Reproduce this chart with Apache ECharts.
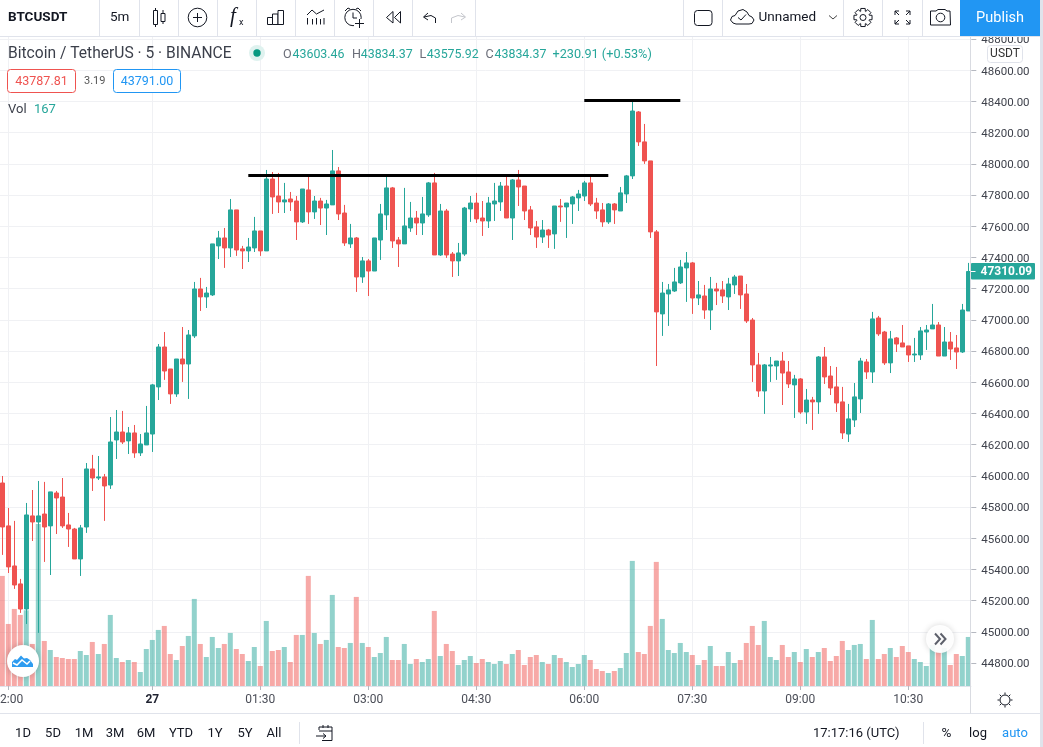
<!DOCTYPE html>
<html><head><meta charset="utf-8">
<style>html,body{margin:0;padding:0;background:#fff}#c{width:1043px;height:747px}</style>
<script src="https://cdn.jsdelivr.net/npm/echarts@6/dist/echarts.min.js"></script>
</head><body><div id="c"></div>
<script>
const opens=[45954,45679,45422,45307,45146,45743,45704,45755,45679,45890,45864,45685,45659,45467,45672,46044,45986,45993,45941,46230,46281,46224,46275,46147,46198,46268,46570,46826,46685,46525,46749,46717,46897,47198,47147,47160,47474,47525,47461,47705,47455,47442,47461,47570,47442,47903,47794,47756,47775,47762,47628,47833,47692,47762,47717,47737,47955,47685,47487,47525,47275,47378,47313,47512,47673,47846,47512,47487,47589,47653,47621,47673,47878,47416,47698,47422,47378,47422,47711,47749,47653,47634,47743,47756,47858,47653,47897,47858,47705,47596,47531,47576,47551,47730,47724,47743,47782,47794,47878,47749,47705,47628,47743,47698,47807,47923,48333,48141,48019,47564,47038,47166,47185,47237,47333,47365,47140,47153,47063,47198,47192,47147,47224,47281,47166,46999,46711,46544,46704,46704,46736,46666,46583,46621,46409,46486,46474,46762,46640,46570,46474,46268,46358,46493,46730,46666,47012,46922,46724,46884,46852,46833,46775,46775,46922,46942,46967,46768,46858,46820,46794,47057];
const closes=[45672,45416,45300,45146,45749,45704,45743,45672,45897,45858,45679,45659,45467,45666,46044,45986,45993,45935,46217,46281,46217,46275,46147,46204,46275,46583,46826,46672,46525,46749,46717,46903,47198,47147,47172,47487,47525,47461,47705,47448,47442,47467,47570,47442,47903,47788,47756,47769,47756,47628,47839,47692,47762,47717,47743,47955,47679,47493,47525,47275,47378,47313,47525,47679,47846,47506,47487,47602,47653,47621,47679,47878,47416,47698,47416,47378,47429,47717,47749,47647,47634,47749,47762,47858,47653,47897,47852,47698,47589,47531,47576,47544,47730,47724,47749,47788,47807,47878,47743,47698,47628,47743,47705,47814,47923,48339,48141,48019,47564,47051,47172,47192,47243,47339,47365,47140,47160,47063,47198,47185,47153,47230,47275,47160,46993,46711,46544,46711,46711,46736,46659,46589,46621,46409,46486,46474,46762,46634,46563,46467,46275,46365,46506,46736,46666,47006,46910,46724,46878,46845,46826,46775,46781,46929,46935,46967,46768,46858,46813,46794,47063,47310.09];
const lows=[45493,45377,45275,45121,45050,45582,44993,45448,45364,45627,45666,45544,45467,45358,45634,45903,45973,45711,45916,46108,46204,46140,46115,46127,46198,46153,46486,46615,46461,46506,46602,46493,46884,47057,47076,47153,47390,47333,47403,47410,47326,47371,47435,47410,47442,47679,47685,47685,47698,47512,47621,47615,47647,47608,47544,47737,47640,47474,47461,47179,47237,47153,47313,47384,47576,47461,47339,47487,47564,47544,47544,47660,47416,47410,47397,47275,47281,47410,47628,47621,47538,47589,47634,47698,47653,47512,47730,47640,47544,47461,47493,47461,47455,47628,47525,47615,47698,47762,47730,47647,47596,47615,47615,47698,47749,47903,48115,48000,47525,46704,46897,46961,47179,47230,47115,47038,47095,47006,46935,47095,47108,47063,47166,47070,46980,46602,46506,46397,46602,46615,46454,46563,46371,46397,46333,46294,46397,46589,46518,46409,46236,46217,46313,46403,46621,46595,46897,46711,46659,46794,46826,46730,46730,46743,46807,46942,46768,46768,46743,46685,46788,47057];
const highs=[45999,45794,45711,45339,45826,45909,45967,45961,45897,45903,45986,45762,45666,45685,46082,46134,46127,46012,46377,46422,46416,46313,46326,46268,46448,46589,46845,46922,46685,46749,46954,46935,47243,47269,47211,47487,47570,47589,47775,47705,47474,47525,47660,47570,47961,47948,47942,47878,47820,47794,47839,47929,47794,47782,47769,48089,47980,47737,47615,47531,47403,47390,47525,47743,47929,47852,47531,47846,47756,47698,47788,47884,47942,47743,47711,47435,47493,47724,47794,47814,47762,47788,47878,47884,47929,47903,47961,47858,47730,47634,47640,47583,47730,47775,47749,47794,47833,47891,47923,47782,47749,47749,47749,47852,47929,48397,48339,48256,48019,47576,47243,47230,47333,47384,47435,47371,47249,47224,47275,47237,47249,47269,47288,47281,47230,47012,46788,46717,46762,46736,46794,46736,46647,46627,46557,46506,46768,46826,46704,46698,46570,46461,46595,46756,46749,47051,47025,46929,46929,46890,46967,46833,46884,46954,46967,47102,46986,46954,46922,46903,47102,47365];
const volumes=[330,186,231,213,227,126,486,135,108,87,84,81,81,105,93,132,96,126,213,84,72,78,72,42,111,138,168,180,96,78,120,150,261,126,87,147,114,126,159,111,96,75,117,60,195,105,108,117,72,153,153,330,159,126,138,273,117,114,129,267,129,117,87,99,147,78,78,126,66,81,72,81,225,90,126,105,63,78,90,69,81,72,66,75,66,96,108,63,87,93,72,66,93,84,72,57,66,93,78,51,45,39,45,54,99,375,102,96,180,372,201,108,99,129,102,93,63,78,120,60,60,102,69,78,129,180,123,195,87,78,123,87,102,72,111,87,102,114,75,90,135,108,123,126,81,198,81,96,114,87,120,102,81,72,60,123,102,114,63,96,90,147];
const priceTicks=[44800,45000,45200,45400,45600,45800,46000,46200,46400,46600,46800,47000,47200,47400,47600,47800,48000,48200,48400,48600,48800];
const timeTicks=['22:00','00:00','01:30','03:00','04:30','06:00','07:30','09:00','10:30'];
const resistance=47925.5, spikeHigh=48406.3;

// five-minute categories, starting at 21:55
const categories=opens.map((_,i)=>{
  const m=(21*60+55+i*5)%1440;
  return String(Math.floor(m/60)).padStart(2,'0')+':'+String(m%60).padStart(2,'0');
});
const GREEN='#26a69a',RED='#ef5350',UI='Roboto,"Noto Sans",sans-serif',INK='#131722',LINE='#e0e3eb',GRID='#f0f1f4';

const chart=echarts.init(document.getElementById('c'),null,{renderer:'canvas'});
const g=[];
const Z=100;
function rect(x,y,w,h,fill,o={}){g.push({type:'rect',z:o.z||Z,silent:true,shape:{x,y,width:w,height:h,r:o.r||0},style:{fill:fill,stroke:o.stroke||null,lineWidth:o.lw||1,shadowBlur:o.blur||0,shadowColor:o.sc||'transparent'}});}
function line(x1,y1,x2,y2,c=INK,lw=1,z=Z){g.push({type:'line',z,silent:true,shape:{x1,y1,x2,y2},style:{stroke:c,lineWidth:lw}});}
function poly(pts,c=INK,lw=1,z=Z+1){g.push({type:'polyline',z,silent:true,shape:{points:pts},style:{stroke:c,lineWidth:lw,fill:null}});}
function pgon(pts,stroke,fill,lw=1,z=Z+1){g.push({type:'polygon',z,silent:true,shape:{points:pts},style:{stroke,fill:fill||null,lineWidth:lw}});}
function circ(cx,cy,r,fill,stroke,lw=1,o={}){g.push({type:'circle',z:o.z||Z+1,silent:true,shape:{cx,cy,r},style:{fill:fill||null,stroke:stroke||null,lineWidth:lw,shadowBlur:o.blur||0,shadowColor:o.sc||'transparent',shadowOffsetY:o.oy||0}});}
function text(x,y,s,o={}){g.push({type:'text',z:o.z||Z+2,silent:true,x,y,style:{text:s,fill:o.c||INK,font:(o.it?'italic ':'')+(o.w||'normal')+' '+(o.s||13)+'px '+(o.f||UI),textAlign:o.a||'left',textVerticalAlign:'middle'}});}

// ---- panels
rect(0,0,1043,36.5,'#fff');
line(0,36.5,1040,36.5,LINE,1);
rect(971,686.5,69,27,'#fff',{z:Z-1});
rect(0,713.5,1040,33.5,'#fff',{z:Z-1});
line(0,713.5,1040,713.5,LINE,1);
line(970.5,37,970.5,713.5,'#d9dbe1',1);
rect(1040,0,3,747,'#e0e3eb');
[99.5,139.5,178.5,217.5,256.5,295.5,334.5,373.5,412.5,475.5,683.5,722.5,843.5,882.5,922.5].forEach(x=>line(x,0,x,36,LINE,1));

// ---- top toolbar left
text(8,17.5,'BTCUSDT',{w:'bold',s:13.5,c:'#131722'});
text(110,17.5,'5m',{s:13.5});
rect(153.5,10.5,4,14,'#fff',{stroke:INK});line(155.5,8,155.5,10.5);line(155.5,24.5,155.5,27);
rect(161,13.5,4,8,'#fff',{stroke:INK});line(163,10,163,13.5);line(163,21.5,163,24);
circ(197.5,17.5,9.3,null,INK);line(193,17.5,202,17.5);line(197.5,13,197.5,22);
text(230,16.5,'f',{s:21,it:true,f:'"Liberation Serif",serif'});
text(239,23,'x',{s:9});
rect(267.5,17.5,5,7,'#fff',{stroke:INK});rect(272.5,14,5.5,10.5,'#fff',{stroke:INK});rect(278,10.5,5.5,14,'#fff',{stroke:INK});
poly([[307,15],[312,10],[316.5,14],[324,10]]);
[307.5,312.5,316.5,320.5,324].forEach((x,i)=>line(x,i%2?19:18,x,24.5));
circ(353,17.5,8.2,null,INK);poly([[353,12.5],[353,18],[357,18]]);
poly([[345,11],[348,8],[350,9]]);poly([[361,11],[358,8],[356,9]]);
rect(354,19,10,9,'#fff',{z:Z+1});line(355,23.5,364,23.5,INK,1,Z+2);line(359.5,19,359.5,28,INK,1,Z+2);
pgon([[393,11.5],[386.5,17.5],[393,23]],INK);pgon([[400.5,11.5],[394.5,17.5],[400.5,23]],INK);
poly([[428,13],[423.5,17],[428,20]]);poly([[424,17],[431,15.5],[435.5,18],[435.5,23]]);
poly([[461,13],[465.5,17],[461,20]],'#c4c6cc');poly([[465,17],[458,15.5],[451.5,18],[451.5,23]],'#c4c6cc');

// ---- top toolbar right
rect(694.5,10.5,17.5,15,'#fff',{stroke:INK,r:3});
poly([[736,24],[733,23],[730.5,20],[732,16.5],[735,15.5],[738,11],[743,9.5],[747,12],[749,15.5],[752,17],[754,20],[752,23.5],[749,24],[736,24]]);
poly([[738,17.5],[741,20],[746,14.5]]);
text(758.5,17.5,'Unnamed',{s:13.5});
poly([[829,15.5],[833,19],[837,15.5]],'#444');
(function(){const pts=[];const n=8,cx=863,cy=17.5;for(let i=0;i<n;i++){const a=i*2*Math.PI/n;[[-.24,9.3],[.24,9.3],[.36,6.6],[2*Math.PI/n-.36,6.6]].forEach(p=>{pts.push([cx+p[1]*Math.cos(a+p[0]),cy+p[1]*Math.sin(a+p[0])]);});}pgon(pts,INK,null);circ(cx,cy,3,null,INK);})();
[[895,11,1,1],[910,11,-1,1],[895,24,1,-1],[910,24,-1,-1]].forEach(p=>{const [x,y,a,b]=p;poly([[x+a*4,y],[x,y],[x,y+b*4]]);line(x,y,x+a*4,y+b*4);});
poly([[936,11],[938,9.5],[945,9.5],[947,11],[950,11],[950.5,25],[930.5,25],[930.5,11],[936,11]]);circ(940.5,17.5,4.3,null,INK);
rect(960,0,80,36,'#2196f3');
text(1000,18,'Publish',{s:14.5,c:'#fff',a:'center'});

// ---- legend
text(8,54.5,'Bitcoin / TetherUS · 5 · BINANCE',{s:15.6,c:'#3b3f4a'});
circ(257,53,8,'#dff2ef');circ(257,53,3.7,'#089981');
[[283,'O',292.5,'43603.46'],[352,'H',360.7,'43834.37'],[419.5,'L',426.7,'43575.92'],[485.5,'C',494.5,'43834.37']].forEach(p=>{
  text(p[0],55,p[1],{s:12.6,c:'#6a6d78'});text(p[2],55,p[3],{s:12.4,c:'#26a69a'});
});
text(552.5,55,'+230.91 (+0.53%)',{s:12.7,c:'#26a69a'});
rect(7.5,69.5,68,23,'#fff',{stroke:RED,r:3});text(41.5,82,'43787.81',{s:12.5,c:RED,a:'center'});
text(84,81.5,'3.19',{s:11,c:'#555'});
rect(113.5,69.5,67,23,'#fff',{stroke:'#2196f3',r:3});text(147,82,'43791.00',{s:12.5,c:'#2196f3',a:'center'});
text(8,110,'Vol',{s:13,c:'#3b3f4a'});text(34,110,'167',{s:13,c:'#26a69a'});

// ---- price scale extras
rect(987.5,45.5,35,17,'#fff',{stroke:LINE,r:3});text(1005,54,'USDT',{s:12,c:'#333',a:'center'});
rect(971,263,64,16.5,GREEN,{r:1});
text(980.5,271.5,'47310.09',{s:12,w:'bold',c:'#fff'});
line(971,271.5,975.5,271.5,'#fff',1);
circ(1005,700,5,null,INK);
[0,1,2,3,4,5,6,7].forEach(i=>{const a=i*Math.PI/4;line(1005+5.5*Math.cos(a),700+5.5*Math.sin(a),1005+7.5*Math.cos(a),700+7.5*Math.sin(a));});

// ---- floating buttons
circ(23,661,16,'#fff',null,1,{blur:6,sc:'rgba(0,0,0,.22)',z:Z});
pgon([[12,667],[12,662],[15,659],[17,660],[21,655.5],[24,658.5],[27,658],[30,660],[33,664],[33,667]],null,'#2e9cf0');
poly([[13,663],[17,665],[22,660],[27,664],[30,661]],'#fff',1.5);
circ(940,639,14,'rgba(255,255,255,.92)',null,1,{blur:6,sc:'rgba(0,0,0,.18)',z:Z});
poly([[935,633.5],[940,639],[935,644.5]],'#5d606b',2);poly([[940.5,633.5],[945.5,639],[940.5,644.5]],'#5d606b',2);

// ---- bottom toolbar
[['1D',23],['5D',53],['1M',84],['3M',115],['6M',146],['YTD',181],['1Y',215],['5Y',245],['All',274]].forEach(t=>text(t[1],733.5,t[0],{s:13,a:'center'}));
line(299.5,722,299.5,744,LINE,1);
poly([[319,730],[319,727],[332,727],[332,740.5],[322,740.5]]);line(319,731,332,731);line(323,725,323,728);line(328,725,328,728);
poly([[316,736],[326,736]]);poly([[323,733.5],[326,736],[323,738.5]]);
text(813,733.5,'17:17:16 (UTC)',{s:13});
line(923.5,722,923.5,744,LINE,1);
text(946.5,733.5,'%',{s:13.5,a:'center'});
text(978,733.5,'log',{s:13,a:'center'});
text(1015,733.5,'auto',{s:13,c:'#2196f3',a:'center'});

const TOP=37,BOTTOM=686;
const option={
  animation:false,
  grid:[
    {left:-0.7,width:972,top:TOP,height:BOTTOM-TOP,show:false,outerBoundsMode:'none',containLabel:false},
    {left:-0.7,width:972,top:TOP,height:BOTTOM-TOP,show:false,outerBoundsMode:'none',containLabel:false}
  ],
  xAxis:[
    {type:'category',gridIndex:0,data:categories,show:false},
    {type:'category',gridIndex:1,data:categories,position:'bottom',
     axisLine:{show:true,lineStyle:{color:LINE,width:1}},
     axisTick:{show:true,alignWithLabel:true,length:4,interval:(i,v)=>timeTicks.includes(v),lineStyle:{color:'#b5b8c0'}},
     splitLine:{show:false},
     axisLabel:{show:true,margin:8,interval:(i,v)=>timeTicks.includes(v),fontFamily:UI,fontSize:12,color:'#4a4d57',
       formatter:v=>v==='00:00'?'{b|27}':v,rich:{b:{fontWeight:'bold',fontSize:12,fontFamily:UI,color:'#1f2230'}}}}
  ],
  yAxis:[
    {type:'value',gridIndex:0,position:'right',min:44652.4,max:48813.5,scale:true,
     axisLine:{show:false},
     axisTick:{show:true,length:5,customValues:priceTicks,lineStyle:{color:'#b5b8c0'}},
     axisLabel:{show:true,margin:10,customValues:priceTicks,hideOverlap:false,showMinLabel:true,showMaxLabel:true,fontFamily:UI,fontSize:11.5,color:'#3f424c',verticalAlign:'top',lineHeight:13,padding:[-5,0,0,0],formatter:v=>v.toFixed(2)},
     splitLine:{show:true,lineStyle:{color:GRID,width:1}}},
    {type:'value',gridIndex:1,min:0,max:1945.5,show:false,splitLine:{show:false}}
  ],
  series:[
    {name:'Vol',type:'bar',xAxisIndex:1,yAxisIndex:1,barWidth:5,data:volumes,silent:true,z:2,
     itemStyle:{color:p=>closes[p.dataIndex]>=opens[p.dataIndex]?'rgba(38,166,154,.5)':'rgba(239,83,80,.5)'},
     markLine:{silent:true,symbol:'none',z:1,animation:false,label:{show:false},lineStyle:{type:'solid',width:1,color:GRID},
       data:timeTicks.map(t=>({xAxis:t}))}},
    {name:'BTCUSDT',type:'candlestick',xAxisIndex:0,yAxisIndex:0,barWidth:4,z:3,silent:true,
     data:opens.map((o,i)=>[o,closes[i],lows[i],highs[i]]),
     itemStyle:{color:GREEN,color0:RED,borderColor:GREEN,borderColor0:RED,borderWidth:1},
     markLine:{silent:true,symbol:'none',z:5,animation:false,label:{show:false},lineStyle:{type:'solid',width:3,color:'#000'},
       data:[
         [{coord:[categories[41],resistance]},{coord:[categories[101],resistance]}],
         [{coord:[categories[97],spikeHigh]},{coord:[categories[113],spikeHigh]}]
       ]}}
  ],
  graphic:{elements:g}
};
chart.setOption(option);
</script></body></html>
